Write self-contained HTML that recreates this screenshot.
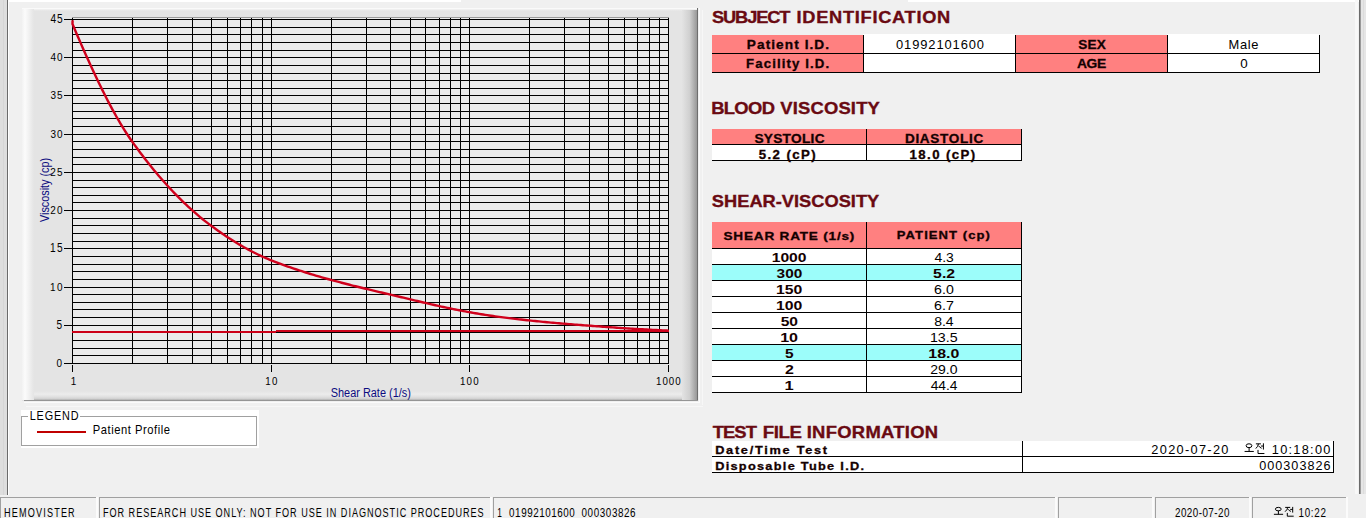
<!DOCTYPE html>
<html><head><meta charset="utf-8"><style>
html,body{margin:0;padding:0;width:1366px;height:518px;overflow:hidden;background:#f0f0f0;}
svg text{font-family:"Liberation Sans", sans-serif;}
</style></head><body>
<svg width="1366" height="518" viewBox="0 0 1366 518" style="position:absolute;left:0;top:0" font-family="Liberation Sans, sans-serif">
<defs>
<linearGradient id="gl" x1="0" x2="1" y1="0" y2="0"><stop offset="0" stop-color="#f2f2f2"/><stop offset="0.25" stop-color="#fbfbfb"/><stop offset="1" stop-color="#e4e4e4"/></linearGradient>
<linearGradient id="gr" x1="0" x2="1" y1="0" y2="0"><stop offset="0" stop-color="#e3e3e3"/><stop offset="0.5" stop-color="#d0d0d0"/><stop offset="1" stop-color="#989898"/></linearGradient>
<linearGradient id="gb" x1="0" x2="0" y1="0" y2="1"><stop offset="0" stop-color="#e4e4e4"/><stop offset="0.35" stop-color="#ececec"/><stop offset="0.65" stop-color="#e0e0e0"/><stop offset="0.85" stop-color="#d2d2d2"/><stop offset="1" stop-color="#b0b0b0"/></linearGradient>
<linearGradient id="gt" x1="0" x2="0" y1="0" y2="1"><stop offset="0" stop-color="#fafafa"/><stop offset="1" stop-color="#e4e4e4"/></linearGradient>
</defs>
<rect x="0" y="0" width="1366" height="518" fill="#f0f0f0" />
<rect x="0" y="0" width="7" height="495" fill="#dedede" />
<rect x="3" y="0" width="1" height="495" fill="#d6d6d6"/>
<rect x="7" y="0" width="1" height="495" fill="#6b6b6b"/>
<rect x="8" y="0" width="1" height="495" fill="#ffffff"/>
<rect x="8" y="0" width="453" height="2" fill="#ffffff"/>
<rect x="908" y="0" width="451" height="2" fill="#ffffff"/>
<rect x="1355" y="0" width="3" height="494" fill="#f8f8f8"/>
<rect x="1360" y="0" width="6" height="494" fill="#e6e6e6" />
<rect x="1359" y="0" width="1" height="494" fill="#6b6b6b"/>
<rect x="1360" y="0" width="1" height="494" fill="#9a9a9a"/>
<rect x="1363" y="0" width="1" height="494" fill="#dcdcdc"/>
<rect x="22" y="8" width="676" height="393" fill="#e4e4e4" />
<rect x="22" y="391" width="675" height="9" fill="url(#gb)" />
<rect x="22" y="8" width="676" height="3" fill="url(#gt)" />
<rect x="22" y="8" width="12" height="392" fill="url(#gl)" />
<rect x="682" y="10" width="15" height="391" fill="url(#gr)" />
<rect x="22" y="8" width="676" height="1" fill="#fafafa"/>
<rect x="697" y="8" width="1" height="393" fill="#6e6e6e"/>
<rect x="24" y="400" width="674" height="1" fill="#959595"/>
<rect x="699" y="8" width="1" height="395" fill="#fbfbfb"/>
<rect x="702" y="10" width="1" height="395" fill="#f7f7f7"/>
<rect x="24" y="402" width="676" height="1" fill="#fbfbfb"/>
<rect x="26" y="406" width="677" height="1" fill="#f7f7f7"/>
<rect x="72" y="18" width="597" height="346" fill="#ebebeb" />
<rect x="72" y="17" width="597" height="1" fill="#9a9a9a"/>
<rect x="72" y="363" width="597" height="1" fill="#000"/>
<rect x="72" y="355" width="597" height="1" fill="#000"/>
<rect x="72" y="348" width="597" height="1" fill="#000"/>
<rect x="72" y="340" width="597" height="1" fill="#000"/>
<rect x="72" y="332" width="597" height="1" fill="#000"/>
<rect x="72" y="325" width="597" height="1" fill="#000"/>
<rect x="72" y="317" width="597" height="1" fill="#000"/>
<rect x="72" y="309" width="597" height="1" fill="#000"/>
<rect x="72" y="302" width="597" height="1" fill="#000"/>
<rect x="72" y="294" width="597" height="1" fill="#000"/>
<rect x="72" y="287" width="597" height="1" fill="#000"/>
<rect x="72" y="279" width="597" height="1" fill="#000"/>
<rect x="72" y="271" width="597" height="1" fill="#000"/>
<rect x="72" y="264" width="597" height="1" fill="#000"/>
<rect x="72" y="256" width="597" height="1" fill="#000"/>
<rect x="72" y="248" width="597" height="1" fill="#000"/>
<rect x="72" y="241" width="597" height="1" fill="#000"/>
<rect x="72" y="233" width="597" height="1" fill="#000"/>
<rect x="72" y="225" width="597" height="1" fill="#000"/>
<rect x="72" y="218" width="597" height="1" fill="#000"/>
<rect x="72" y="210" width="597" height="1" fill="#000"/>
<rect x="72" y="202" width="597" height="1" fill="#000"/>
<rect x="72" y="195" width="597" height="1" fill="#000"/>
<rect x="72" y="187" width="597" height="1" fill="#000"/>
<rect x="72" y="180" width="597" height="1" fill="#000"/>
<rect x="72" y="172" width="597" height="1" fill="#000"/>
<rect x="72" y="164" width="597" height="1" fill="#000"/>
<rect x="72" y="157" width="597" height="1" fill="#000"/>
<rect x="72" y="149" width="597" height="1" fill="#000"/>
<rect x="72" y="141" width="597" height="1" fill="#000"/>
<rect x="72" y="134" width="597" height="1" fill="#000"/>
<rect x="72" y="126" width="597" height="1" fill="#000"/>
<rect x="72" y="118" width="597" height="1" fill="#000"/>
<rect x="72" y="111" width="597" height="1" fill="#000"/>
<rect x="72" y="103" width="597" height="1" fill="#000"/>
<rect x="72" y="95" width="597" height="1" fill="#000"/>
<rect x="72" y="88" width="597" height="1" fill="#000"/>
<rect x="72" y="80" width="597" height="1" fill="#000"/>
<rect x="72" y="73" width="597" height="1" fill="#000"/>
<rect x="72" y="65" width="597" height="1" fill="#000"/>
<rect x="72" y="57" width="597" height="1" fill="#000"/>
<rect x="72" y="50" width="597" height="1" fill="#000"/>
<rect x="72" y="42" width="597" height="1" fill="#000"/>
<rect x="72" y="34" width="597" height="1" fill="#000"/>
<rect x="72" y="27" width="597" height="1" fill="#000"/>
<rect x="72" y="19" width="597" height="1" fill="#000"/>
<rect x="72" y="18" width="1" height="346" fill="#000"/>
<rect x="132" y="18" width="1" height="346" fill="#000"/>
<rect x="167" y="18" width="1" height="346" fill="#000"/>
<rect x="192" y="18" width="1" height="346" fill="#000"/>
<rect x="211" y="18" width="1" height="346" fill="#000"/>
<rect x="227" y="18" width="1" height="346" fill="#000"/>
<rect x="240" y="18" width="1" height="346" fill="#000"/>
<rect x="251" y="18" width="1" height="346" fill="#000"/>
<rect x="262" y="18" width="1" height="346" fill="#000"/>
<rect x="271" y="18" width="1" height="346" fill="#000"/>
<rect x="331" y="18" width="1" height="346" fill="#000"/>
<rect x="366" y="18" width="1" height="346" fill="#000"/>
<rect x="390" y="18" width="1" height="346" fill="#000"/>
<rect x="410" y="18" width="1" height="346" fill="#000"/>
<rect x="425" y="18" width="1" height="346" fill="#000"/>
<rect x="439" y="18" width="1" height="346" fill="#000"/>
<rect x="450" y="18" width="1" height="346" fill="#000"/>
<rect x="460" y="18" width="1" height="346" fill="#000"/>
<rect x="469" y="18" width="1" height="346" fill="#000"/>
<rect x="529" y="18" width="1" height="346" fill="#000"/>
<rect x="564" y="18" width="1" height="346" fill="#000"/>
<rect x="589" y="18" width="1" height="346" fill="#000"/>
<rect x="608" y="18" width="1" height="346" fill="#000"/>
<rect x="624" y="18" width="1" height="346" fill="#000"/>
<rect x="637" y="18" width="1" height="346" fill="#000"/>
<rect x="649" y="18" width="1" height="346" fill="#000"/>
<rect x="659" y="18" width="1" height="346" fill="#000"/>
<rect x="668" y="18" width="1" height="346" fill="#000"/>
<rect x="72" y="331" width="204" height="2" fill="#cc0018"/>
<rect x="276" y="330" width="393" height="2" fill="#cc0018"/>
<path d="M72.6,20.3 L72.50,24.09 L74.49,28.77 L76.49,33.43 L78.48,38.05 L80.47,42.64 L82.47,47.19 L84.46,51.70 L86.46,56.17 L88.45,60.59 L90.44,64.97 L92.44,69.29 L94.43,73.57 L96.42,77.79 L98.42,81.95 L100.41,86.06 L102.40,90.10 L104.40,94.08 L106.39,98.00 L108.39,101.85 L110.38,105.62 L112.37,109.32 L114.37,112.95 L116.36,116.50 L118.35,119.97 L120.35,123.35 L122.34,126.66 L124.33,129.87 L126.33,132.99 L128.32,136.03 L130.32,138.96 L132.31,141.80 L134.30,144.58 L136.30,147.32 L138.29,150.02 L140.28,152.69 L142.28,155.33 L144.27,157.93 L146.26,160.50 L148.26,163.03 L150.25,165.53 L152.25,167.99 L154.24,170.42 L156.23,172.82 L158.23,175.18 L160.22,177.51 L162.21,179.80 L164.21,182.06 L166.20,184.29 L168.19,186.48 L170.19,188.64 L172.18,190.77 L174.18,192.86 L176.17,194.92 L178.16,196.95 L180.16,198.94 L182.15,200.90 L184.14,202.83 L186.14,204.72 L188.13,206.59 L190.13,208.41 L192.12,210.21 L194.11,211.97 L196.11,213.71 L198.10,215.40 L200.09,217.07 L202.09,218.70 L204.08,220.31 L206.07,221.88 L208.07,223.41 L210.06,224.92 L212.06,226.39 L214.05,227.84 L216.04,229.28 L218.04,230.69 L220.03,232.08 L222.02,233.46 L224.02,234.81 L226.01,236.14 L228.00,237.45 L230.00,238.75 L231.99,240.02 L233.99,241.26 L235.98,242.49 L237.97,243.69 L239.97,244.88 L241.96,246.04 L243.95,247.17 L245.95,248.29 L247.94,249.38 L249.93,250.44 L251.93,251.49 L253.92,252.51 L255.92,253.50 L257.91,254.47 L259.90,255.42 L261.90,256.34 L263.89,257.24 L265.88,258.11 L267.88,258.95 L269.87,259.77 L271.86,260.56 L273.86,261.34 L275.85,262.11 L277.85,262.87 L279.84,263.62 L281.83,264.35 L283.83,265.08 L285.82,265.80 L287.81,266.51 L289.81,267.21 L291.80,267.90 L293.79,268.58 L295.79,269.25 L297.78,269.92 L299.78,270.57 L301.77,271.22 L303.76,271.86 L305.76,272.49 L307.75,273.12 L309.74,273.73 L311.74,274.34 L313.73,274.94 L315.72,275.54 L317.72,276.13 L319.71,276.71 L321.71,277.29 L323.70,277.86 L325.69,278.42 L327.69,278.98 L329.68,279.53 L331.67,280.08 L333.67,280.62 L335.66,281.15 L337.65,281.69 L339.65,282.21 L341.64,282.74 L343.64,283.25 L345.63,283.77 L347.62,284.28 L349.62,284.78 L351.61,285.29 L353.60,285.79 L355.60,286.28 L357.59,286.77 L359.58,287.26 L361.58,287.75 L363.57,288.24 L365.57,288.72 L367.56,289.20 L369.55,289.68 L371.55,290.16 L373.54,290.63 L375.53,291.10 L377.53,291.58 L379.52,292.05 L381.52,292.52 L383.51,292.99 L385.50,293.46 L387.50,293.93 L389.49,294.40 L391.48,294.87 L393.48,295.34 L395.47,295.81 L397.46,296.28 L399.46,296.75 L401.45,297.22 L403.45,297.70 L405.44,298.17 L407.43,298.65 L409.43,299.13 L411.42,299.61 L413.41,300.09 L415.41,300.56 L417.40,301.04 L419.39,301.52 L421.39,301.99 L423.38,302.46 L425.38,302.93 L427.37,303.39 L429.36,303.85 L431.36,304.31 L433.35,304.77 L435.34,305.22 L437.34,305.67 L439.33,306.12 L441.32,306.56 L443.32,306.99 L445.31,307.43 L447.31,307.85 L449.30,308.27 L451.29,308.69 L453.29,309.10 L455.28,309.51 L457.27,309.91 L459.27,310.30 L461.26,310.69 L463.25,311.07 L465.25,311.44 L467.24,311.81 L469.24,312.16 L471.23,312.52 L473.22,312.86 L475.22,313.21 L477.21,313.54 L479.20,313.88 L481.20,314.20 L483.19,314.53 L485.18,314.84 L487.18,315.15 L489.17,315.46 L491.17,315.76 L493.16,316.05 L495.15,316.33 L497.15,316.61 L499.14,316.89 L501.13,317.15 L503.13,317.41 L505.12,317.66 L507.11,317.91 L509.11,318.15 L511.10,318.39 L513.10,318.63 L515.09,318.86 L517.08,319.09 L519.08,319.32 L521.07,319.55 L523.06,319.77 L525.06,319.99 L527.05,320.20 L529.04,320.41 L531.04,320.62 L533.03,320.83 L535.03,321.03 L537.02,321.24 L539.01,321.43 L541.01,321.63 L543.00,321.82 L544.99,322.01 L546.99,322.20 L548.98,322.38 L550.97,322.57 L552.97,322.74 L554.96,322.92 L556.96,323.10 L558.95,323.27 L560.94,323.44 L562.94,323.60 L564.93,323.77 L566.92,323.93 L568.92,324.09 L570.91,324.25 L572.91,324.42 L574.90,324.58 L576.89,324.73 L578.89,324.89 L580.88,325.05 L582.87,325.21 L584.87,325.36 L586.86,325.52 L588.85,325.67 L590.85,325.82 L592.84,325.97 L594.84,326.12 L596.83,326.27 L598.82,326.42 L600.82,326.57 L602.81,326.71 L604.80,326.86 L606.80,327.00 L608.79,327.14 L610.78,327.28 L612.78,327.42 L614.77,327.56 L616.77,327.70 L618.76,327.83 L620.75,327.97 L622.75,328.10 L624.74,328.23 L626.73,328.36 L628.73,328.48 L630.72,328.61 L632.71,328.73 L634.71,328.85 L636.70,328.97 L638.70,329.09 L640.69,329.21 L642.68,329.32 L644.68,329.44 L646.67,329.55 L648.66,329.65 L650.66,329.76 L652.65,329.87 L654.64,329.97 L656.64,330.07 L658.63,330.17 L660.63,330.27 L662.62,330.36 L664.61,330.45 L666.61,330.54 L668.60,330.63" fill="none" stroke="#d0001c" stroke-width="2.4" stroke-linejoin="round"/>
<rect x="64" y="363" width="8" height="1" fill="#000"/>
<text transform="matrix(0.8500,0,0,1,56.61,0)" x="0" y="367.50" font-size="11.74" font-weight="normal" fill="#000" letter-spacing="0.504">0</text>
<rect x="64" y="325" width="8" height="1" fill="#000"/>
<text transform="matrix(0.8500,0,0,1,56.59,0)" x="0" y="329.50" font-size="11.92" font-weight="normal" fill="#000" letter-spacing="0.467">5</text>
<rect x="64" y="287" width="8" height="1" fill="#000"/>
<text transform="matrix(0.8500,0,0,1,50.04,0)" x="0" y="291.50" font-size="11.74" font-weight="normal" fill="#000" letter-spacing="1.702">10</text>
<rect x="64" y="248" width="8" height="1" fill="#000"/>
<text transform="matrix(0.8500,0,0,1,50.03,0)" x="0" y="252.50" font-size="11.92" font-weight="normal" fill="#000" letter-spacing="1.563">15</text>
<rect x="64" y="210" width="8" height="1" fill="#000"/>
<text transform="matrix(0.8500,0,0,1,50.30,0)" x="0" y="214.50" font-size="11.74" font-weight="normal" fill="#000" letter-spacing="1.398">20</text>
<rect x="64" y="172" width="8" height="1" fill="#000"/>
<text transform="matrix(0.8500,0,0,1,50.30,0)" x="0" y="176.50" font-size="11.74" font-weight="normal" fill="#000" letter-spacing="1.433">25</text>
<rect x="64" y="134" width="8" height="1" fill="#000"/>
<text transform="matrix(0.8500,0,0,1,50.42,0)" x="0" y="138.50" font-size="11.74" font-weight="normal" fill="#000" letter-spacing="1.255">30</text>
<rect x="64" y="95" width="8" height="1" fill="#000"/>
<text transform="matrix(0.8500,0,0,1,50.42,0)" x="0" y="99.50" font-size="11.74" font-weight="normal" fill="#000" letter-spacing="1.290">35</text>
<rect x="64" y="57" width="8" height="1" fill="#000"/>
<text transform="matrix(0.8500,0,0,1,50.57,0)" x="0" y="61.50" font-size="11.74" font-weight="normal" fill="#000" letter-spacing="1.077">40</text>
<rect x="64" y="19" width="8" height="1" fill="#000"/>
<text transform="matrix(0.8500,0,0,1,50.57,0)" x="0" y="23.50" font-size="11.92" font-weight="normal" fill="#000" letter-spacing="0.928">45</text>
<rect x="72" y="365" width="1" height="7" fill="#000"/>
<text transform="matrix(0.8500,0,0,1,70.85,0)" x="0" y="384.80" font-size="11.63" font-weight="normal" fill="#000" letter-spacing="-1.484">1</text>
<rect x="271" y="365" width="1" height="7" fill="#000"/>
<text transform="matrix(0.8500,0,0,1,265.16,0)" x="0" y="384.80" font-size="11.46" font-weight="normal" fill="#000" letter-spacing="1.753">10</text>
<rect x="469" y="365" width="1" height="7" fill="#000"/>
<text transform="matrix(0.8500,0,0,1,460.06,0)" x="0" y="384.80" font-size="11.46" font-weight="normal" fill="#000" letter-spacing="1.337">100</text>
<rect x="668" y="365" width="1" height="7" fill="#000"/>
<text transform="matrix(0.8500,0,0,1,655.96,0)" x="0" y="384.80" font-size="11.46" font-weight="normal" fill="#000" letter-spacing="1.199">1000</text>
<text x="330.70" y="396.60" font-size="12.28" font-weight="normal" fill="#0c0c80" textLength="80.17" lengthAdjust="spacingAndGlyphs" >Shear Rate (1/s)</text>
<g transform="translate(48.7,222) rotate(-90)">
<text x="-0.05" y="0.00" font-size="12.28" font-weight="normal" fill="#0c0c80" textLength="64.22" lengthAdjust="spacingAndGlyphs" >Viscosity (cp)</text>
</g>
<rect x="21" y="410" width="238" height="38" fill="#ffffff" />
<rect x="21.5" y="416.5" width="235" height="29" fill="none" stroke="#a0a0a0" stroke-width="1"/>
<rect x="28" y="410" width="52" height="10" fill="#ffffff" />
<text transform="matrix(0.8800,0,0,1,29.71,0)" x="0" y="419.80" font-size="12.32" font-weight="normal" fill="#000" letter-spacing="0.985">LEGEND</text>
<rect x="37" y="431" width="49" height="2" fill="#c00000"/>
<text transform="matrix(0.8800,0,0,1,92.78,0)" x="0" y="433.60" font-size="12.70" font-weight="normal" fill="#000" letter-spacing="0.629">Patient Profile</text>
<text transform="matrix(1.0800,0,0,1,711.97,0)" x="0" y="23.00" font-size="16.90" font-weight="bold" fill="#6a0a12" letter-spacing="-1.029" stroke="#6a0a12" stroke-width="0.35">SUBJECT</text>
<text transform="matrix(1.0800,0,0,1,796.58,0)" x="0" y="23.00" font-size="16.90" font-weight="bold" fill="#6a0a12" letter-spacing="0.652" stroke="#6a0a12" stroke-width="0.35">IDENTIFICATION</text>
<text transform="matrix(1.0800,0,0,1,711.17,0)" x="0" y="114.50" font-size="17.04" font-weight="bold" fill="#6a0a12" letter-spacing="-0.615" stroke="#6a0a12" stroke-width="0.35">BLOOD</text>
<text transform="matrix(1.0800,0,0,1,780.17,0)" x="0" y="114.50" font-size="17.04" font-weight="bold" fill="#6a0a12" letter-spacing="0.189" stroke="#6a0a12" stroke-width="0.35">VISCOSITY</text>
<text transform="matrix(1.0800,0,0,1,711.87,0)" x="0" y="206.70" font-size="16.90" font-weight="bold" fill="#6a0a12" letter-spacing="0.006" stroke="#6a0a12" stroke-width="0.35">SHEAR-VISCOSITY</text>
<text transform="matrix(1.0800,0,0,1,712.69,0)" x="0" y="437.90" font-size="17.04" font-weight="bold" fill="#6a0a12" letter-spacing="-0.844" stroke="#6a0a12" stroke-width="0.35">TEST</text>
<text transform="matrix(1.0800,0,0,1,762.75,0)" x="0" y="437.90" font-size="17.30" font-weight="bold" fill="#6a0a12" letter-spacing="-0.368" stroke="#6a0a12" stroke-width="0.35">FILE</text>
<text transform="matrix(1.0800,0,0,1,806.67,0)" x="0" y="437.90" font-size="17.04" font-weight="bold" fill="#6a0a12" letter-spacing="0.289" stroke="#6a0a12" stroke-width="0.35">INFORMATION</text>
<rect x="712" y="35" width="151" height="37" fill="#ff8080" />
<rect x="863" y="34" width="152" height="38" fill="#ffffff" />
<rect x="1015" y="35" width="152" height="37" fill="#ff8080" />
<rect x="1167" y="34" width="152" height="38" fill="#ffffff" />
<rect x="712" y="53" width="608" height="1" fill="#000"/>
<rect x="712" y="72" width="608" height="1" fill="#000"/>
<rect x="863" y="35" width="1" height="38" fill="#000"/>
<rect x="1015" y="35" width="1" height="38" fill="#000"/>
<rect x="1167" y="35" width="1" height="38" fill="#000"/>
<rect x="1319" y="35" width="1" height="38" fill="#000"/>
<text transform="matrix(1.1000,0,0,1,746.79,0)" x="0" y="48.90" font-size="12.42" font-weight="bold" fill="#140000" letter-spacing="0.971" stroke="#140000" stroke-width="0.3">Patient I.D.</text>
<text transform="matrix(1.1000,0,0,1,746.12,0)" x="0" y="67.70" font-size="12.01" font-weight="bold" fill="#140000" letter-spacing="1.005" stroke="#140000" stroke-width="0.3">Facility I.D.</text>
<text transform="matrix(1.1000,0,0,1,1078.21,0)" x="0" y="48.90" font-size="12.32" font-weight="bold" fill="#140000" letter-spacing="0.227" stroke="#140000" stroke-width="0.3">SEX</text>
<text transform="matrix(1.1000,0,0,1,1077.05,0)" x="0" y="67.60" font-size="12.60" font-weight="bold" fill="#140000" letter-spacing="-0.389" stroke="#140000" stroke-width="0.3">AGE</text>
<text transform="matrix(1.0500,0,0,1,895.99,0)" x="0" y="48.70" font-size="12.32" font-weight="normal" fill="#000" letter-spacing="0.847">01992101600</text>
<text transform="matrix(1.0500,0,0,1,1228.54,0)" x="0" y="48.90" font-size="12.28" font-weight="normal" fill="#000" letter-spacing="0.660">Male</text>
<text x="1240.18" y="67.90" font-size="12.46" font-weight="normal" fill="#000" textLength="7.45" lengthAdjust="spacingAndGlyphs" >0</text>
<rect x="712" y="129" width="309" height="15" fill="#ff8080" />
<rect x="712" y="144" width="309" height="16" fill="#ffffff" />
<rect x="712" y="144" width="310" height="1" fill="#000"/>
<rect x="712" y="160" width="310" height="1" fill="#000"/>
<rect x="866" y="129" width="1" height="32" fill="#000"/>
<rect x="1021" y="129" width="1" height="32" fill="#000"/>
<text transform="matrix(1.1000,0,0,1,754.41,0)" x="0" y="142.90" font-size="12.46" font-weight="bold" fill="#140000" letter-spacing="0.251" stroke="#140000" stroke-width="0.3">SYSTOLIC</text>
<text transform="matrix(1.1000,0,0,1,904.89,0)" x="0" y="142.90" font-size="12.32" font-weight="bold" fill="#140000" letter-spacing="0.644" stroke="#140000" stroke-width="0.3">DIASTOLIC</text>
<text transform="matrix(1.1000,0,0,1,758.69,0)" x="0" y="158.70" font-size="12.01" font-weight="bold" fill="#140000" letter-spacing="1.310" stroke="#140000" stroke-width="0.3">5.2 (cP)</text>
<text transform="matrix(1.1000,0,0,1,909.57,0)" x="0" y="158.70" font-size="12.01" font-weight="bold" fill="#140000" letter-spacing="1.280" stroke="#140000" stroke-width="0.3">18.0 (cP)</text>
<rect x="712" y="222" width="309" height="26" fill="#ff8080" />
<rect x="712" y="248" width="309" height="16" fill="#ffffff" />
<rect x="712" y="264" width="309" height="16" fill="#9cfdfa" />
<rect x="712" y="280" width="309" height="16" fill="#ffffff" />
<rect x="712" y="296" width="309" height="16" fill="#ffffff" />
<rect x="712" y="312" width="309" height="16" fill="#ffffff" />
<rect x="712" y="328" width="309" height="16" fill="#ffffff" />
<rect x="712" y="344" width="309" height="16" fill="#9cfdfa" />
<rect x="712" y="360" width="309" height="16" fill="#ffffff" />
<rect x="712" y="376" width="309" height="16" fill="#ffffff" />
<rect x="712" y="248" width="310" height="1" fill="#000"/>
<rect x="712" y="264" width="310" height="1" fill="#000"/>
<rect x="712" y="280" width="310" height="1" fill="#000"/>
<rect x="712" y="296" width="310" height="1" fill="#000"/>
<rect x="712" y="312" width="310" height="1" fill="#000"/>
<rect x="712" y="328" width="310" height="1" fill="#000"/>
<rect x="712" y="344" width="310" height="1" fill="#000"/>
<rect x="712" y="360" width="310" height="1" fill="#000"/>
<rect x="712" y="376" width="310" height="1" fill="#000"/>
<rect x="712" y="392" width="310" height="1" fill="#000"/>
<rect x="866" y="222" width="1" height="171" fill="#000"/>
<rect x="1021" y="222" width="1" height="171" fill="#000"/>
<text transform="matrix(1.2000,0,0,1,723.51,0)" x="0" y="239.60" font-size="11.32" font-weight="bold" fill="#140000" letter-spacing="0.661" stroke="#140000" stroke-width="0.3">SHEAR RATE (1/s)</text>
<text transform="matrix(1.2000,0,0,1,896.82,0)" x="0" y="239.50" font-size="10.90" font-weight="bold" fill="#140000" letter-spacing="0.875" stroke="#140000" stroke-width="0.3">PATIENT (cp)</text>
<text x="771.71" y="261.70" font-size="12.46" font-weight="bold" fill="#140000" textLength="34.83" lengthAdjust="spacingAndGlyphs" >1000</text>
<text x="934.48" y="261.70" font-size="12.46" font-weight="normal" fill="#000" textLength="19.33" lengthAdjust="spacingAndGlyphs" >4.3</text>
<text x="776.60" y="277.70" font-size="12.46" font-weight="bold" fill="#140000" textLength="25.68" lengthAdjust="spacingAndGlyphs" >300</text>
<text x="933.12" y="277.70" font-size="12.46" font-weight="bold" fill="#140000" textLength="21.92" lengthAdjust="spacingAndGlyphs" >5.2</text>
<text x="775.96" y="293.70" font-size="12.46" font-weight="bold" fill="#140000" textLength="26.34" lengthAdjust="spacingAndGlyphs" >150</text>
<text x="934.08" y="293.70" font-size="12.46" font-weight="normal" fill="#000" textLength="19.67" lengthAdjust="spacingAndGlyphs" >6.0</text>
<text x="775.96" y="309.70" font-size="12.46" font-weight="bold" fill="#140000" textLength="26.34" lengthAdjust="spacingAndGlyphs" >100</text>
<text x="934.08" y="309.70" font-size="12.46" font-weight="normal" fill="#000" textLength="19.84" lengthAdjust="spacingAndGlyphs" >6.7</text>
<text x="780.72" y="325.70" font-size="12.46" font-weight="bold" fill="#140000" textLength="17.32" lengthAdjust="spacingAndGlyphs" >50</text>
<text x="934.19" y="325.70" font-size="12.46" font-weight="normal" fill="#000" textLength="19.42" lengthAdjust="spacingAndGlyphs" >8.4</text>
<text x="780.19" y="341.70" font-size="12.46" font-weight="bold" fill="#140000" textLength="17.87" lengthAdjust="spacingAndGlyphs" >10</text>
<text x="929.92" y="341.70" font-size="12.46" font-weight="normal" fill="#000" textLength="27.68" lengthAdjust="spacingAndGlyphs" >13.5</text>
<text x="784.97" y="357.70" font-size="12.65" font-weight="bold" fill="#140000" textLength="8.61" lengthAdjust="spacingAndGlyphs" >5</text>
<text x="928.35" y="357.70" font-size="12.46" font-weight="bold" fill="#140000" textLength="30.95" lengthAdjust="spacingAndGlyphs" >18.0</text>
<text x="784.90" y="373.70" font-size="12.46" font-weight="bold" fill="#140000" textLength="8.89" lengthAdjust="spacingAndGlyphs" >2</text>
<text x="930.30" y="373.70" font-size="12.46" font-weight="normal" fill="#000" textLength="27.25" lengthAdjust="spacingAndGlyphs" >29.0</text>
<text x="784.41" y="389.70" font-size="12.65" font-weight="bold" fill="#140000" textLength="9.20" lengthAdjust="spacingAndGlyphs" >1</text>
<text x="930.68" y="389.70" font-size="12.65" font-weight="normal" fill="#000" textLength="26.72" lengthAdjust="spacingAndGlyphs" >44.4</text>
<rect x="712" y="441" width="621" height="31" fill="#ffffff" />
<rect x="712" y="456" width="622" height="1" fill="#000"/>
<rect x="712" y="472" width="622" height="1" fill="#000"/>
<rect x="1022" y="441" width="1" height="32" fill="#000"/>
<rect x="1333" y="441" width="1" height="32" fill="#000"/>
<text transform="matrix(1.1000,0,0,1,715.15,0)" x="0" y="453.80" font-size="11.59" font-weight="bold" fill="#140000" letter-spacing="1.574" stroke="#140000" stroke-width="0.3">Date/Time Test</text>
<text transform="matrix(1.1000,0,0,1,715.15,0)" x="0" y="469.60" font-size="11.59" font-weight="bold" fill="#140000" letter-spacing="1.173" stroke="#140000" stroke-width="0.3">Disposable Tube I.D.</text>
<text transform="matrix(1.0500,0,0,1,1151.36,0)" x="0" y="453.90" font-size="12.17" font-weight="normal" fill="#000" letter-spacing="1.244">2020-07-20</text>
<ellipse cx="1249.00" cy="445.72" rx="2.90" ry="1.93" fill="none" stroke="#000" stroke-width="1.0"/>
<path d="M1249.10,447.59 L1249.10,451.44 M1244.60,451.44 L1253.80,451.44 M1255.90,443.85 L1260.90,443.85 M1258.50,443.85 Q1257.90,446.60 1255.80,448.58 M1258.50,445.72 Q1259.60,447.48 1261.60,448.25 M1263.40,443.30 L1263.40,449.57 M1260.90,446.05 L1263.40,446.05 M1258.00,449.90 L1258.00,453.53 L1264.40,453.53" fill="none" stroke="#000" stroke-width="1.0"/>
<text transform="matrix(1.0500,0,0,1,1271.83,0)" x="0" y="453.90" font-size="12.17" font-weight="normal" fill="#000" letter-spacing="1.200">10:18:00</text>
<text transform="matrix(1.0500,0,0,1,1259.21,0)" x="0" y="469.70" font-size="12.03" font-weight="normal" fill="#000" letter-spacing="0.967">000303826</text>
<rect x="0" y="497" width="96" height="1" fill="#a0a0a0"/>
<rect x="0" y="497" width="1" height="21" fill="#a0a0a0"/>
<rect x="96" y="497" width="2" height="21" fill="#fbfbfb"/>
<rect x="99" y="497" width="391" height="1" fill="#a0a0a0"/>
<rect x="99" y="497" width="1" height="21" fill="#a0a0a0"/>
<rect x="490" y="497" width="2" height="21" fill="#fbfbfb"/>
<rect x="493" y="497" width="562" height="1" fill="#a0a0a0"/>
<rect x="493" y="497" width="1" height="21" fill="#a0a0a0"/>
<rect x="1055" y="497" width="2" height="21" fill="#fbfbfb"/>
<rect x="1058" y="497" width="94" height="1" fill="#a0a0a0"/>
<rect x="1058" y="497" width="1" height="21" fill="#a0a0a0"/>
<rect x="1152" y="497" width="2" height="21" fill="#fbfbfb"/>
<rect x="1155" y="497" width="94" height="1" fill="#a0a0a0"/>
<rect x="1155" y="497" width="1" height="21" fill="#a0a0a0"/>
<rect x="1249" y="497" width="2" height="21" fill="#fbfbfb"/>
<rect x="1252" y="497" width="94" height="1" fill="#a0a0a0"/>
<rect x="1252" y="497" width="1" height="21" fill="#a0a0a0"/>
<rect x="1346" y="497" width="2" height="21" fill="#fbfbfb"/>
<text transform="matrix(0.7400,0,0,1,4.05,0)" x="0" y="516.80" font-size="12.32" font-weight="normal" fill="#000" letter-spacing="1.563">HEMOVISTER</text>
<text transform="matrix(0.7400,0,0,1,102.95,0)" x="0" y="516.80" font-size="12.32" font-weight="normal" fill="#000" letter-spacing="1.308">FOR RESEARCH USE ONLY: NOT FOR USE IN DIAGNOSTIC PROCEDURES</text>
<text x="497.26" y="516.80" font-size="12.50" font-weight="normal" fill="#000" textLength="4.64" lengthAdjust="spacingAndGlyphs" >1</text>
<text transform="matrix(0.8000,0,0,1,509.12,0)" x="0" y="516.80" font-size="12.32" font-weight="normal" fill="#000" letter-spacing="0.661">01992101600</text>
<text transform="matrix(0.8000,0,0,1,581.52,0)" x="0" y="516.80" font-size="12.32" font-weight="normal" fill="#000" letter-spacing="0.750">000303826</text>
<text transform="matrix(0.8000,0,0,1,1175.00,0)" x="0" y="516.80" font-size="12.32" font-weight="normal" fill="#000" letter-spacing="0.566">2020-07-20</text>
<ellipse cx="1278.30" cy="509.10" rx="2.90" ry="1.75" fill="none" stroke="#000" stroke-width="1.0"/>
<path d="M1278.40,510.80 L1278.40,514.30 M1273.90,514.30 L1283.10,514.30 M1285.20,507.40 L1290.20,507.40 M1287.80,507.40 Q1287.20,509.90 1285.10,511.70 M1287.80,509.10 Q1288.90,510.70 1290.90,511.40 M1292.70,506.90 L1292.70,512.60 M1290.20,509.40 L1292.70,509.40 M1287.30,512.90 L1287.30,516.20 L1293.70,516.20" fill="none" stroke="#000" stroke-width="1.0"/>
<text transform="matrix(0.8000,0,0,1,1298.55,0)" x="0" y="516.80" font-size="12.32" font-weight="normal" fill="#000" letter-spacing="0.840">10:22</text>
</svg>
</body></html>
